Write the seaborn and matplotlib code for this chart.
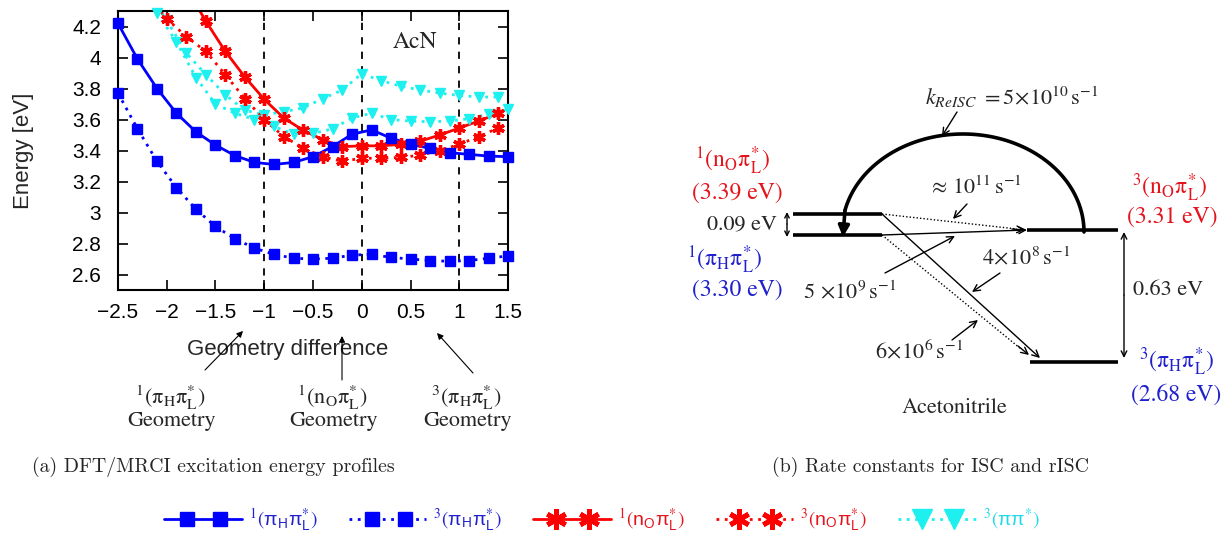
import numpy as np
import matplotlib
matplotlib.use("Agg")
import matplotlib.pyplot as plt
import seaborn as sns
from matplotlib.lines import Line2D
from matplotlib.legend_handler import HandlerLine2D

# ---- data ----
# blue series are computed on the "odd" geometry grid
x_pp = [-2.5, -2.3, -2.1, -1.9, -1.7, -1.5, -1.3, -1.1, -0.9, -0.7, -0.5,
        -0.3, -0.1, 0.1, 0.3, 0.5, 0.7, 0.9, 1.1, 1.3, 1.5]
s1_pipi = [4.22, 3.99, 3.80, 3.64, 3.52, 3.435, 3.367, 3.323, 3.31, 3.323, 3.36,
           3.425, 3.505, 3.533, 3.48, 3.44, 3.414, 3.386, 3.375, 3.364, 3.36]
t1_pipi = [3.77, 3.54, 3.33, 3.16, 3.02, 2.91, 2.83, 2.77, 2.73, 2.705, 2.70,
           2.705, 2.725, 2.73, 2.71, 2.70, 2.69, 2.685, 2.69, 2.705, 2.72]

# red series on the "even" grid
x_s_np = [-1.8, -1.6, -1.4, -1.2, -1.0, -0.8, -0.6, -0.4, -0.2, 0.0, 0.2,
          0.4, 0.6, 0.8, 1.0, 1.2, 1.4]
s1_npi = [4.45, 4.235, 4.04, 3.875, 3.73, 3.61, 3.53, 3.47, 3.425, 3.43, 3.43,
          3.44, 3.46, 3.50, 3.545, 3.59, 3.64]
x_even = [-2.2, -2.0, -1.8, -1.6, -1.4, -1.2, -1.0, -0.8, -0.6, -0.4, -0.2,
          0.0, 0.2, 0.4, 0.6, 0.8, 1.0, 1.2, 1.4]
t1_npi = [4.40, 4.25, 4.135, 4.04, 3.89, 3.735, 3.60, 3.49, 3.415, 3.36, 3.33,
          3.35, 3.35, 3.355, 3.37, 3.40, 3.44, 3.49, 3.545]
t_pipi_a = [4.43, 4.24, 4.03, 3.89, 3.76, 3.66, 3.63, 3.65, 3.675, 3.735, 3.79,
            3.896, 3.85, 3.815, 3.79, 3.77, 3.755, 3.745, 3.745]
x_pipi_b = [-2.3, -2.1, -1.9, -1.7, -1.5, -1.3, -1.1, -0.9, -0.7, -0.5, -0.3,
            -0.1, 0.1, 0.3, 0.5, 0.7, 0.9, 1.1, 1.3, 1.5]
t_pipi_b = [4.49, 4.29, 4.10, 3.87, 3.70, 3.64, 3.60, 3.555, 3.505, 3.51, 3.54,
            3.61, 3.64, 3.60, 3.59, 3.585, 3.59, 3.605, 3.635, 3.665]

x_ticks = [-2.5, -2, -1.5, -1, -0.5, 0, 0.5, 1, 1.5]
x_ticklabels = ['\u22122.5', '\u22122', '\u22121.5', '\u22121', '\u22120.5', '0', '0.5', '1', '1.5']
y_ticks = [2.6, 2.8, 3.0, 3.2, 3.4, 3.6, 3.8, 4.0, 4.2]
y_ticklabels = ['2.6', '2.8', '3', '3.2', '3.4', '3.6', '3.8', '4', '4.2']
ref_geoms = [-1, 0, 1]

# level energies for the rate diagram (eV)
e_s_npi, e_s_pipi, e_t_npi, e_t_pipi = 3.39, 3.30, 3.31, 2.68
rate_labels = [r'$k_{ReISC}\ =5\!\times\!10^{10}\,\mathrm{s}^{-1}$',
               r'$\approx\,10^{11}\,\mathrm{s}^{-1}$',
               r'$5\,\times\!10^{9}\,\mathrm{s}^{-1}$',
               r'$4\!\times\!10^{8}\,\mathrm{s}^{-1}$',
               r'$6\!\times\!10^{6}\,\mathrm{s}^{-1}$']

lab_s_pp = r'$^1(\mathrm{\pi}_\mathrm{H}\mathrm{\pi}_\mathrm{L}^{*})$'
lab_t_pp = r'$^3(\mathrm{\pi}_\mathrm{H}\mathrm{\pi}_\mathrm{L}^{*})$'
lab_s_np = r'$^1(\mathrm{n}_\mathrm{O}\mathrm{\pi}_\mathrm{L}^{*})$'
lab_t_np = r'$^3(\mathrm{n}_\mathrm{O}\mathrm{\pi}_\mathrm{L}^{*})$'

BLUE, RED, CYAN = '#0000ff', '#ff0000', '#1ef0f0'
TXT_RED, TXT_BLUE = '#e5141c', '#2020cc'

sns.set_theme(style="ticks")
plt.rcParams['font.family'] = ['Liberation Sans', 'DejaVu Sans']
plt.rcParams['mathtext.fontset'] = 'stix'
plt.rcParams['axes.edgecolor'] = 'black'
plt.rcParams['axes.linewidth'] = 1.5

W, H = 1226, 539
fig = plt.figure(figsize=(W / 100, H / 100), dpi=100)


def px_box(l, t, r, b):
    return [l / W, 1 - b / H, (r - l) / W, (b - t) / H]


ax = fig.add_axes(px_box(118, 11, 508, 290))
YMAX = 4.3
STAR = (6, 2, 0)


def draw(x, y, color, ls, marker, ms, mew=1.0, lw=2.0):
    x = np.asarray(x)
    y = np.asarray(y)
    sns.lineplot(x=x, y=y, ax=ax, color=color, linestyle=ls, linewidth=lw,
                 estimator=None, legend=False)
    inside = y <= YMAX
    ax.plot(x[inside], y[inside], ls='none', marker=marker, ms=ms, color=color,
            mec=color, mew=mew, clip_on=False, zorder=3)


for g in ref_geoms:
    ax.axvline(g, color='black', lw=1.3, ls=(0, (4, 4)), zorder=1)

dots = (0, (1, 2))
draw(x_pipi_b, t_pipi_b, CYAN, dots, 'v', 7)
draw(x_even, t_pipi_a, CYAN, dots, 'v', 7)
draw(x_even, t1_npi, RED, dots, STAR, 9, mew=2.4)
draw(x_s_np, s1_npi, RED, '-', STAR, 9, mew=2.4)
draw(x_pp, t1_pipi, BLUE, dots, 's', 7)
draw(x_pp, s1_pipi, BLUE, '-', 's', 7)

ax.set_xlim(-2.5, 1.5)
ax.set_ylim(2.5, YMAX)
ax.set_xticks(x_ticks)
ax.set_xticklabels(x_ticklabels)
ax.set_yticks(y_ticks)
ax.set_yticklabels(y_ticklabels)
ax.tick_params(axis='both', direction='in', top=True, right=True, length=7,
               width=1.2, labelsize=15, colors='black')
ax.tick_params(axis='x', pad=9)
ax.tick_params(axis='y', pad=12)
ax.set_xlabel('Geometry difference', fontsize=16)
ax.xaxis.set_label_coords(0.436, -0.175)
ax.set_ylabel('Energy [eV]', fontsize=16)
ax.yaxis.set_label_coords(-0.215, 0.5)
ax.text(0.55, 4.1, 'AcN', family='STIXGeneral', fontsize=17, ha='center', va='center')

# ---- overlay in pixel coordinates for annotations and the rate diagram ----
dax = fig.add_axes([0, 0, 1, 1])
dax.set_xlim(0, W)
dax.set_ylim(H, 0)
dax.axis('off')
dax.patch.set_alpha(0)

SERIF = 'STIXGeneral'


def arrow(tail, tip, style='->', lw=1.0, ms=12, ls='-'):
    dax.annotate('', xy=tip, xytext=tail,
                 arrowprops=dict(arrowstyle=style, lw=lw, color='black',
                                 mutation_scale=ms, shrinkA=0, shrinkB=0, linestyle=ls))


# geometry annotations under the left panel
for lab, cx, tail, tip in [(lab_s_pp, 170, (205, 370), (243, 331)),
                           (lab_s_np, 332, (342, 380), (342, 336)),
                           (lab_t_pp, 466, (473, 373), (437, 333))]:
    dax.text(cx, 398, lab, fontsize=16, ha='center', va='center')
    dax.text(cx + 2, 421, 'Geometry', family=SERIF, fontsize=16, ha='center', va='center')
    arrow(tail, tip, style='-|>', lw=0.8, ms=9)

# energy levels
lv = dict(color='black', lw=2.6, solid_capstyle='butt')
dax.plot([793, 882], [214, 214], **lv)
dax.plot([793, 882], [235, 235], **lv)
dax.plot([1027, 1118], [230, 230], **lv)
dax.plot([1030, 1118], [362, 362], **lv)

# transitions
dax.plot([882, 1017], [214, 229], color='black', lw=1.0, ls=(0, (1, 1.5)))
arrow((1012, 229), (1025, 230))
arrow((882, 235), (1027, 230))
arrow((882, 214), (1040, 358))
dax.plot([882, 1021], [235, 349], color='black', lw=1.0, ls=(0, (1, 1.5)))
arrow((1018, 346), (1029, 355))

# reverse ISC arc
th = np.linspace(0, 0.93 * np.pi, 120)
dax.plot(963 + 121 * np.cos(th), 232 - 98 * np.sin(th), color='black', lw=2.6)
arrow((963 + 121 * np.cos(0.93 * np.pi), 232 - 98 * np.sin(0.93 * np.pi)), (843, 237),
      style='-|>', lw=2.6, ms=16)

# rate labels with pointer arrows
dax.text(925, 97, rate_labels[0], fontsize=16, ha='left', va='center')
arrow((957, 112), (942, 136), lw=1.0)
dax.text(928, 188, rate_labels[1], fontsize=16, ha='left', va='center')
arrow((967, 204), (953, 219))
dax.text(803, 292, rate_labels[2], fontsize=16, ha='left', va='center')
arrow((885, 273), (955, 236))
dax.text(982, 258, rate_labels[3], fontsize=16, ha='left', va='center')
arrow((1000, 273), (972, 292))
dax.text(875, 352, rate_labels[4], fontsize=16, ha='left', va='center')
arrow((952, 340), (978, 320))

# gaps
arrow((787, 224), (787, 212), lw=1.0, ms=8)
arrow((787, 224), (787, 237), lw=1.0, ms=8)
dax.text(777, 225, f'{e_s_npi - e_s_pipi:.2f} eV', family=SERIF, fontsize=16,
         ha='right', va='center')
arrow((1124, 295), (1124, 232), lw=1.0, ms=10)
arrow((1124, 295), (1124, 358), lw=1.0, ms=10)
dax.text(1133, 290, f'{e_t_npi - e_t_pipi:.2f} eV', family=SERIF, fontsize=16,
         ha='left', va='center')

# level labels
dax.text(733, 161, lab_s_np, color=TXT_RED, fontsize=17, ha='center', va='center')
dax.text(737, 193, f'({e_s_npi:.2f} eV)', color=TXT_RED, family=SERIF, fontsize=17,
         ha='center', va='center')
dax.text(725, 260, lab_s_pp, color=TXT_BLUE, fontsize=17, ha='center', va='center')
dax.text(737, 290, f'({e_s_pipi:.2f} eV)', color=TXT_BLUE, family=SERIF, fontsize=17,
         ha='center', va='center')
dax.text(1170, 188, lab_t_np, color=TXT_RED, fontsize=17, ha='center', va='center')
dax.text(1172, 217, f'({e_t_npi:.2f} eV)', color=TXT_RED, family=SERIF, fontsize=17,
         ha='center', va='center')
dax.text(1177, 362, lab_t_pp, color=TXT_BLUE, fontsize=17, ha='center', va='center')
dax.text(1176, 395, f'({e_t_pipi:.2f} eV)', color=TXT_BLUE, family=SERIF, fontsize=17,
         ha='center', va='center')
dax.text(955, 408, 'Acetonitrile', family=SERIF, fontsize=16, ha='center', va='center')

# captions
dax.text(213, 467, '(a) DFT/MRCI excitation energy profiles', family='cmr10',
         fontsize=14.3, ha='center', va='center')
dax.text(930, 467, '(b) Rate constants for ISC and rISC', family='cmr10',
         fontsize=14.3, ha='center', va='center')


# legend: line runs past the two markers, as in the reference
class InsetMarkers(HandlerLine2D):
    def create_artists(self, legend, orig_handle, xdescent, ydescent, width,
                       height, fontsize, trans):
        xdata = -xdescent + width * np.array([0.0, 0.3, 0.72, 1.0])
        ydata = np.full_like(xdata, (height - ydescent) / 2)
        line = Line2D(xdata, ydata)
        self.update_prop(line, orig_handle, legend)
        line.set_markevery([1, 2])
        line.set_transform(trans)
        return [line]


handles = [
    Line2D([], [], color=BLUE, ls='-', lw=2, marker='s', ms=10),
    Line2D([], [], color=BLUE, ls=dots, lw=2, marker='s', ms=10),
    Line2D([], [], color=RED, ls='-', lw=2, marker=STAR, ms=15, mew=3.5),
    Line2D([], [], color=RED, ls=dots, lw=2, marker=STAR, ms=15, mew=3.5),
    Line2D([], [], color=CYAN, ls=dots, lw=2, marker='v', ms=15),
]
labels = [r'$^1(\mathregular{\pi}_\mathregular{H}\mathregular{\pi}_\mathregular{L}^{*})$',
          r'$^3(\mathregular{\pi}_\mathregular{H}\mathregular{\pi}_\mathregular{L}^{*})$',
          r'$^1(\mathregular{n}_\mathregular{O}\mathregular{\pi}_\mathregular{L}^{*})$',
          r'$^3(\mathregular{n}_\mathregular{O}\mathregular{\pi}_\mathregular{L}^{*})$',
          r'$^3(\mathregular{\pi\pi}^{*})$']
fig.legend(handles, labels, loc='center', bbox_to_anchor=(0.491, 0.035), ncol=5,
           frameon=False, handlelength=4.0, handletextpad=0.35,
           columnspacing=1.6, fontsize=14,
           handler_map={Line2D: InsetMarkers()},
           labelcolor=[TXT_BLUE, TXT_BLUE, TXT_RED, TXT_RED, '#20d8e8'])

fig.savefig('out.png', dpi=100)
